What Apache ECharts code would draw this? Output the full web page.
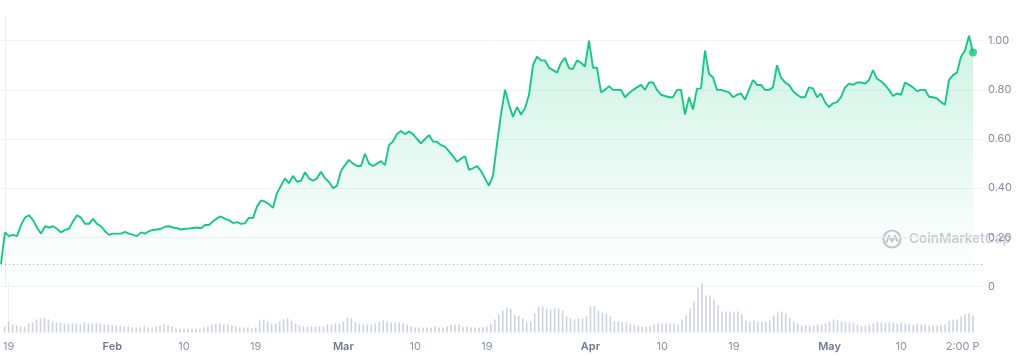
<!DOCTYPE html>
<html><head><meta charset="utf-8">
<script src="https://cdn.jsdelivr.net/npm/echarts@6/dist/echarts.min.js"></script>
<style>html,body{margin:0;padding:0;background:#fff}#c{width:1018px;height:356px}</style>
</head><body><div id="c"></div>
<script>
// time index: days from Jan 19 00:00, one sample every 12 hours
const startDay = -0.5;
const stepDays = 0.5;

const prices = [
0.092,0.22,0.205,0.21,0.205,0.25,0.28,0.29,0.27,0.24,
0.215,0.245,0.24,0.245,0.235,0.22,0.23,0.235,0.265,0.29,
0.28,0.255,0.255,0.275,0.255,0.245,0.225,0.21,0.215,0.215,
0.215,0.222,0.215,0.21,0.205,0.22,0.215,0.225,0.23,0.232,
0.235,0.243,0.245,0.24,0.237,0.232,0.235,0.236,0.238,0.24,
0.237,0.25,0.25,0.265,0.277,0.285,0.275,0.27,0.258,0.262,
0.255,0.257,0.28,0.278,0.325,0.35,0.345,0.335,0.32,0.38,
0.41,0.44,0.42,0.45,0.426,0.43,0.465,0.44,0.43,0.44,
0.467,0.44,0.425,0.40,0.41,0.47,0.494,0.515,0.50,0.49,
0.49,0.54,0.50,0.49,0.50,0.51,0.494,0.575,0.59,0.62,
0.633,0.62,0.63,0.62,0.60,0.582,0.60,0.616,0.59,0.589,
0.575,0.569,0.55,0.53,0.508,0.52,0.53,0.474,0.481,0.49,
0.47,0.44,0.41,0.45,0.58,0.70,0.80,0.74,0.69,0.73,
0.70,0.725,0.78,0.90,0.935,0.92,0.92,0.89,0.88,0.87,
0.91,0.93,0.888,0.885,0.92,0.91,0.895,1.00,0.89,0.89,
0.79,0.80,0.815,0.80,0.80,0.80,0.77,0.786,0.80,0.81,
0.82,0.80,0.83,0.83,0.80,0.78,0.775,0.77,0.77,0.80,
0.80,0.70,0.77,0.72,0.805,0.806,0.96,0.865,0.85,0.80,
0.80,0.795,0.79,0.77,0.78,0.785,0.76,0.80,0.84,0.82,
0.82,0.80,0.80,0.81,0.90,0.85,0.83,0.82,0.795,0.78,
0.77,0.77,0.81,0.806,0.77,0.785,0.75,0.73,0.745,0.75,
0.77,0.81,0.825,0.82,0.83,0.83,0.825,0.84,0.88,0.845,
0.835,0.82,0.80,0.775,0.785,0.78,0.83,0.82,0.81,0.795,
0.80,0.80,0.772,0.77,0.765,0.75,0.74,0.84,0.86,0.87,
0.935,0.96,1.02,0.952
];

const volumes = [
6,11,8,7,6,6,9,10,13,14,
15,13,11,10,10,9,9,9,9,8,
10,9,9,9,9,8,8,7,7,7,
6,6,5,5,5,6,5,5,6,7,
8,7,6,4,4,4,4,4,4,4,
5,6,8,9,9,8,8,7,6,5,
5,5,4,5,12,13,11,9,9,11,
13,14,12,9,7,6,6,6,6,6,
6,8,8,9,9,11,15,14,10,9,
8,8,8,9,11,12,11,10,10,10,
9,8,6,5,5,5,5,5,6,5,
5,6,8,8,8,6,6,5,5,5,
5,6,9,13,18,22,25,24,18,17,
14,10,11,19,26,26,24,23,24,24,
22,16,14,13,14,14,16,26,27,22,
20,19,16,11,11,10,10,9,8,7,
6,6,6,8,9,9,9,9,9,8,
13,17,24,31,45,49,37,37,33,27,
21,21,21,20,21,18,12,11,12,11,
11,11,12,17,20,21,19,15,11,9,
7,7,7,7,8,8,9,11,13,12,
11,10,10,10,8,7,7,8,9,11,
10,10,10,10,9,10,9,9,8,9,
8,8,7,7,7,8,8,12,13,13,
16,18,19,17
];

const tickDays = [0, 13, 22, 31, 42, 51, 60, 73, 82, 91, 103, 112, 119.7];
const tickLabels = ['19', 'Feb', '10', '19', 'Mar', '10', '19', 'Apr', '10', '19', 'May', '10', '2:00 P'];
const monthLabels = ['Feb', 'Mar', 'Apr', 'May'];

const priceData = prices.map((v, i) => [startDay + i * stepDays, v]);
const volumeData = volumes.map((v, i) => [startDay + i * stepDays, v]);
const last = priceData[priceData.length - 1];

const labelMap = {};
tickDays.forEach((d, i) => { labelMap[d] = tickLabels[i]; });

const GREEN = '#16c784';
const FONT = 'Inter, "Noto Sans", sans-serif';
const X_MIN = -0.5, X_MAX = 122.125;

const chart = echarts.init(document.getElementById('c'), null, { renderer: 'canvas' });
chart.setOption({
  animation: false,
  backgroundColor: '#ffffff',
  textStyle: { fontFamily: FONT },
  grid: [
    { left: 1, right: 36, top: 16.1, bottom: 69.5 },
    { left: 1, right: 36, top: 282.5, bottom: 23.5 }
  ],
  xAxis: [
    { type: 'value', gridIndex: 0, min: X_MIN, max: X_MAX, show: false, splitLine: { show: false } },
    { type: 'value', gridIndex: 1, min: X_MIN, max: X_MAX,
      axisLine: { show: false }, axisTick: { show: false }, splitLine: { show: false },
      axisLabel: {
        customValues: tickDays,
        margin: 9,
        fontSize: 11,
        color: '#8a93a6',
        fontFamily: FONT,
        formatter: function (v) {
          const t = labelMap[v];
          if (t === undefined) return '';
          return monthLabels.indexOf(t) >= 0 ? '{m|' + t + '}' : t;
        },
        rich: { m: { fontSize: 11, fontWeight: 600, color: '#6f7a90', fontFamily: FONT } }
      }
    }
  ],
  yAxis: [
    { type: 'value', gridIndex: 0, position: 'right', min: 0, max: 1.1, interval: 0.2,
      axisLine: { show: true, lineStyle: { color: '#eceef2', width: 1 } },
      axisTick: { show: false },
      splitLine: { show: true, showMaxLine: false, lineStyle: { color: '#f1f2f5', width: 1 } },
      axisLabel: { showMaxLabel: false, margin: 6, fontSize: 11, color: '#858ca0', fontFamily: FONT,
        formatter: v => v === 0 ? '0' : v.toFixed(2) }
    },
    { type: 'value', gridIndex: 1, position: 'right', min: 0, max: 50,
      axisLine: { show: true, lineStyle: { color: '#eceef2', width: 1 } },
      axisTick: { show: false }, axisLabel: { show: false }, splitLine: { show: false }
    }
  ],
  series: [
    {
      type: 'line', xAxisIndex: 0, yAxisIndex: 0, data: priceData,
      showSymbol: false, smooth: false, z: 3,
      lineStyle: { color: GREEN, width: 1.9 },
      areaStyle: {
        color: new echarts.graphic.LinearGradient(0, 0, 0, 1, [
          { offset: 0, color: 'rgba(22,199,132,0.30)' },
          { offset: 0.75, color: 'rgba(22,199,132,0.06)' },
          { offset: 1, color: 'rgba(22,199,132,0.0)' }
        ])
      },
      markLine: {
        silent: true, symbol: 'none', animation: false,
        data: [
          { yAxis: prices[0], lineStyle: { color: '#a6acbb', type: [1, 3], width: 1 }, label: { show: false } },
          { yAxis: last[1], lineStyle: { opacity: 0, width: 0 },
            label: { show: true, position: 'end', distance: 0,
              formatter: p => p.value.toFixed(2),
              backgroundColor: GREEN, color: '#ffffff', fontSize: 11.5, fontWeight: 600,
              fontFamily: FONT, padding: [3, 5, 2, 5], borderRadius: 2 } }
        ]
      }
    },
    {
      type: 'scatter', xAxisIndex: 0, yAxisIndex: 0, data: [last],
      symbol: 'circle', symbolSize: 8, itemStyle: { color: GREEN }, z: 5, silent: true
    },
    {
      type: 'bar', xAxisIndex: 1, yAxisIndex: 1, data: volumeData,
      barWidth: 1.6, itemStyle: { color: '#ccd3e2' }, silent: true
    }
  ],
  graphic: [
    { type: 'group', left: 881, top: 228, z: 100, silent: true, children: [
      { type: 'circle', shape: { cx: 10, cy: 10, r: 8.5 },
        style: { fill: 'none', stroke: '#c3c8d3', lineWidth: 2.2 } },
      { type: 'polyline', shape: { points: [[4.5, 13], [7, 7], [10, 12.5], [13, 7], [15.5, 12]] },
        style: { fill: 'none', stroke: '#c3c8d3', lineWidth: 2, lineJoin: 'round', lineCap: 'round' } },
      { type: 'text', x: 27, y: 10,
        style: { text: 'CoinMarketCap', fill: '#c3c8d3', font: '600 13.5px ' + FONT, verticalAlign: 'middle', opacity: 0.9 } }
    ] }
  ]
});
</script>
</body></html>
